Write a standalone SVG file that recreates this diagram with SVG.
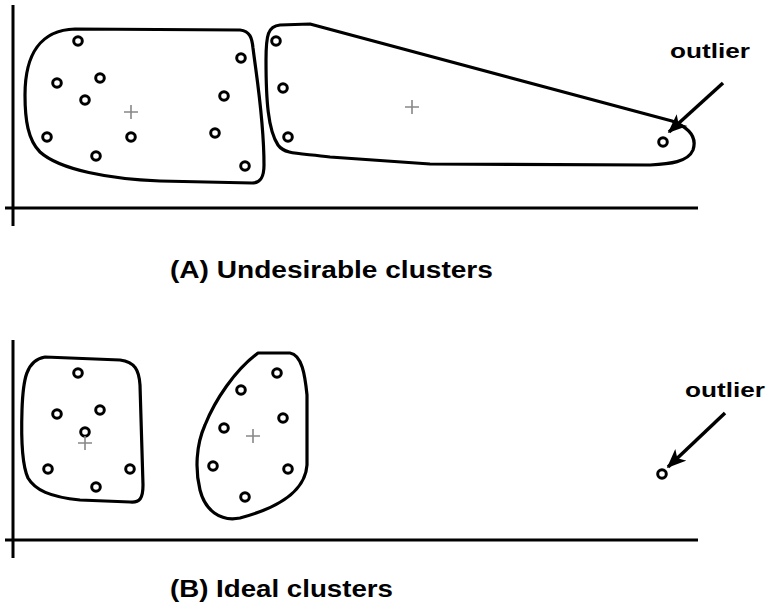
<svg xmlns="http://www.w3.org/2000/svg" width="774" height="615" viewBox="0 0 774 615">
<style>
.ax{stroke:#000;stroke-width:3;fill:none}
.cl{stroke:#000;stroke-width:3.2;fill:none;stroke-linejoin:round}
.pt{stroke:#000;stroke-width:3;fill:#fff}
.cen{stroke:#888;stroke-width:1.6;fill:none}
.lbl{font-family:"Liberation Sans",Arial,sans-serif;font-weight:bold;fill:#000}
.arr{stroke:#000;stroke-width:3.5;fill:none}
</style>
<defs>
<marker id="ah" viewBox="0 0 12 10" refX="11" refY="5" markerWidth="5.5" markerHeight="5" orient="auto" markerUnits="strokeWidth">
<path d="M0,0 L12,5 L0,10 L3,5 Z" fill="#000"/>
</marker>
<g id="p"><circle r="4.3" class="pt"/></g>
<g id="plus"><path d="M-7,0 H7 M0,-7 V7" class="cen"/></g>
</defs>
<rect width="774" height="615" fill="#fff"/>

<g id="panelA">
<path class="ax" d="M13,5 V226 M5,208 H698"/>
<g id="clusterA1">
<path class="cl" d="M75,29 L240,30 C250,31 252,38 253,48 C257,80 264,120 264,165 C264,178 260,183 252,183 L160,181 C110,179 60,170 40,152 C28,140 25,120 25,95 C25,55 40,30 75,29 Z"/>
<use href="#p" x="78" y="41"/><use href="#p" x="57" y="83"/><use href="#p" x="100" y="78"/>
<use href="#p" x="85" y="100"/><use href="#p" x="47" y="137"/><use href="#p" x="96" y="156"/>
<use href="#p" x="131" y="137"/><use href="#p" x="241" y="58"/><use href="#p" x="224" y="96"/>
<use href="#p" x="215" y="133"/><use href="#p" x="245" y="166"/>
<use href="#plus" x="131" y="112"/>
</g>
<g id="clusterA2">
<path class="cl" d="M280,25 L310,24 L672,121 C690,128 697,138 693,150 C688,162 670,164 650,165 L430,164 L330,157 C300,153 285,155 278,145 C268,130 266,100 266,60 C266,35 268,26 280,25 Z"/>
<use href="#p" x="276" y="41"/><use href="#p" x="283" y="88"/><use href="#p" x="288" y="137"/>
<use href="#p" x="663" y="142"/>
<use href="#plus" x="412" y="107"/>
</g>
<g id="outlierA">
<text class="lbl" transform="translate(670,58) scale(1.246,1)" font-size="21">outlier</text>
</g>
<text class="lbl" transform="translate(170,278) scale(1.221,1)" font-size="23">(A) Undesirable clusters</text>
</g>

<g id="panelB">
<path class="ax" d="M13,340 V558 M5,540 H698"/>
<g id="clusterB1">
<path class="cl" d="M45,357 L120,360 C135,362 139,370 140,385 L143,485 C143,498 140,503 130,502 L80,500 C50,497 35,490 28,478 C22,465 21,440 22,410 C23,380 26,360 45,357 Z"/>
<use href="#p" x="78" y="373"/><use href="#p" x="57" y="414"/><use href="#p" x="100" y="410"/>
<use href="#p" x="85" y="432"/><use href="#p" x="48" y="469"/><use href="#p" x="96" y="487"/>
<use href="#p" x="130" y="469"/>
<use href="#plus" x="85" y="443"/>
</g>
<g id="clusterB2">
<path class="cl" d="M258,353 L290,353 C302,355 305,375 307,395 L307,465 C305,495 270,510 240,518 C220,522 205,510 200,490 C195,470 196,445 205,425 C215,400 235,370 258,353 Z"/>
<use href="#p" x="241" y="390"/><use href="#p" x="224" y="428"/><use href="#p" x="213" y="466"/>
<use href="#p" x="245" y="497"/><use href="#p" x="277" y="373"/><use href="#p" x="283" y="418"/>
<use href="#p" x="288" y="469"/>
<use href="#plus" x="253" y="436"/>
</g>
<g id="outlierB">
<use href="#p" x="662" y="474"/>
<text class="lbl" transform="translate(685,397) scale(1.246,1)" font-size="21">outlier</text>
</g>
<text class="lbl" transform="translate(170,597) scale(1.203,1)" font-size="23">(B) Ideal clusters</text>
</g>

<g id="connectors">
<path class="arr" d="M723,83 L669,132" marker-end="url(#ah)"/>
<path class="arr" d="M725,413 L668,467" marker-end="url(#ah)"/>
</g>
</svg>
